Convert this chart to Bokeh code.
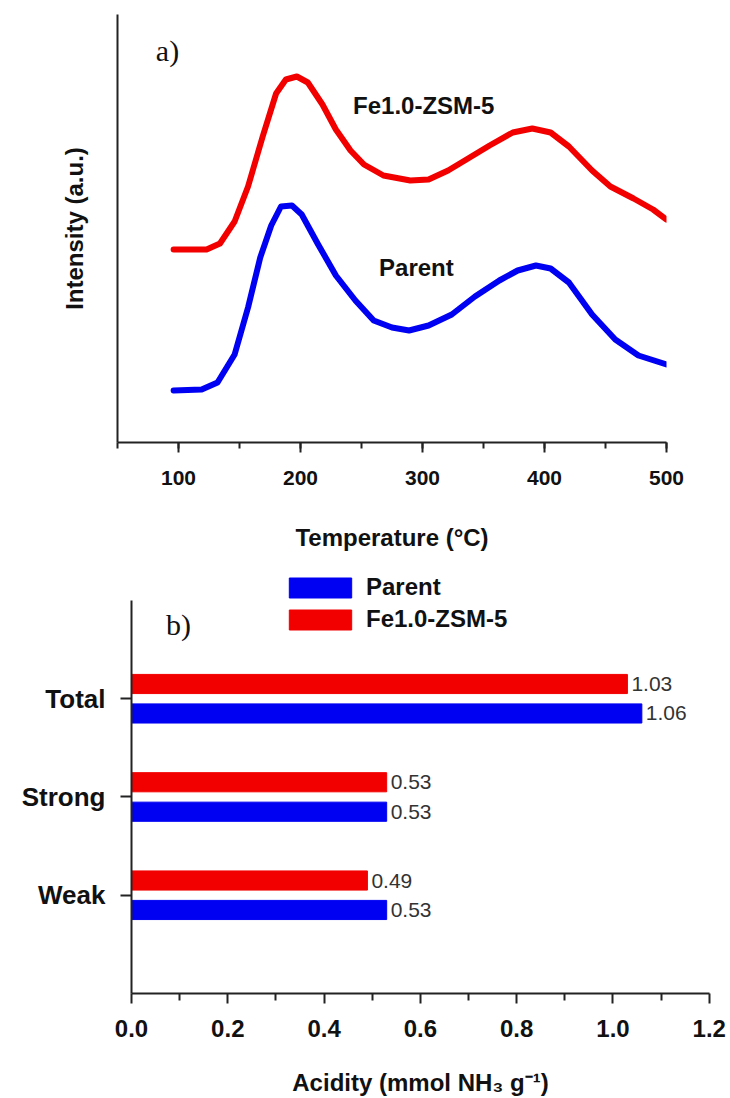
from bokeh.plotting import figure
from bokeh.models import (SingleIntervalTicker, FixedTicker, NumeralTickFormatter,
                          Label, Legend, LegendItem)
from bokeh.embed import file_html
from bokeh.resources import INLINE
from bokeh.core.properties import value

# ---------------- data: panel a (NH3-TPD profiles) ----------------
temp_fe = [96, 123, 134, 146, 157, 169, 180, 188, 197, 206, 218, 229, 241, 252, 268,
           290, 305, 321, 336, 355, 374, 390, 405, 420, 439, 454, 473, 489, 500]
int_fe = [1.93, 1.93, 1.99, 2.21, 2.56, 3.06, 3.49, 3.63, 3.66, 3.60, 3.38, 3.13, 2.92, 2.78, 2.67,
          2.62, 2.63, 2.72, 2.83, 2.97, 3.10, 3.14, 3.10, 2.96, 2.72, 2.56, 2.44, 2.33, 2.23]

temp_parent = [96, 119, 132, 146, 157, 167, 176, 184, 193, 201, 214, 229, 245, 260,
               275, 289, 305, 324, 343, 363, 378, 393, 405, 420, 439, 458, 477, 500]
int_parent = [0.52, 0.53, 0.60, 0.88, 1.35, 1.85, 2.17, 2.36, 2.37, 2.28, 1.99, 1.67, 1.42, 1.22,
              1.15, 1.12, 1.17, 1.28, 1.46, 1.62, 1.72, 1.77, 1.74, 1.60, 1.28, 1.03, 0.87, 0.78]

# ---------------- data: panel b (acidity) ----------------
categories = ["Weak", "Strong", "Total"]
acid_parent = [0.53, 0.53, 1.06]
acid_fe = [0.49, 0.53, 1.03]

acid_ticks = [0.0, 0.2, 0.4, 0.6, 0.8, 1.0, 1.2]
acid_minor = [0.1, 0.3, 0.5, 0.7, 0.9, 1.1]

SANS = "Liberation Sans"
SERIF = "Liberation Serif"
RED = "#f20000"
BLUE = "#0000f2"
AX = "#222222"


def style_axis(ax, label_size):
    ax.axis_line_color = AX
    ax.axis_line_width = 2
    ax.major_tick_line_color = AX
    ax.major_tick_line_width = 2
    ax.minor_tick_line_color = AX
    ax.minor_tick_line_width = 2
    ax.major_tick_in = 0
    ax.minor_tick_in = 0
    ax.major_label_text_font = SANS
    ax.major_label_text_font_style = "bold"
    ax.major_label_text_font_size = label_size
    ax.major_label_text_color = "#111111"
    ax.axis_label_text_font = SANS
    ax.axis_label_text_font_style = "bold"
    ax.axis_label_text_font_size = "24px"
    ax.axis_label_text_color = "#111111"


# ================= panel a =================
pa = figure(width=730, height=560, x_range=(50, 500), y_range=(0, 4.28),
            output_backend="svg", toolbar_location=None,
            min_border_left=117, min_border_right=64, min_border_top=14, min_border_bottom=118)
pa.outline_line_color = None
pa.grid.visible = False

pa.line(temp_fe, int_fe, line_color=RED, line_width=6, line_cap="round", line_join="round")
pa.line(temp_parent, int_parent, line_color=BLUE, line_width=6, line_cap="round", line_join="round")

xa = pa.xaxis[0]
xa.ticker = SingleIntervalTicker(interval=100, num_minor_ticks=2)
style_axis(xa, "21px")
xa.major_tick_out = 10
xa.minor_tick_out = 6
xa.major_label_standoff = 18
xa.axis_label = "Temperature (°C)"
xa.axis_label_standoff = 36

ya = pa.yaxis[0]
ya.ticker = FixedTicker(ticks=[])
style_axis(ya, "21px")
ya.major_tick_out = 0
ya.minor_tick_out = 0
ya.major_label_standoff = 0
ya.axis_label = "Intensity (a.u.)"
ya.axis_label_standoff = 30

pa.add_layout(Label(x=91, y=3.92, text="a)", text_font=SERIF, text_font_size="30px",
                    text_align="center", text_baseline="middle", text_color="#111111"))
pa.add_layout(Label(x=301, y=3.37, text="Fe1.0-ZSM-5", text_font=SANS, text_font_style="bold",
                    text_font_size="24px", text_align="center", text_baseline="middle",
                    text_color="#111111"))
pa.add_layout(Label(x=295, y=1.75, text="Parent", text_font=SANS, text_font_style="bold",
                    text_font_size="24px", text_align="center", text_baseline="middle",
                    text_color="#111111"))

# ================= panel b =================
pb = figure(width=730, height=538, x_range=(0, 1.2005), y_range=(0, 4.305),
            output_backend="svg", toolbar_location=None,
            min_border_left=131, min_border_right=21, min_border_top=10, min_border_bottom=105)
pb.outline_line_color = None
pb.grid.visible = False

pos = [i + 1 for i in range(len(categories))]
pos_fe = [p + 0.15 for p in pos]
pos_parent = [p - 0.15 for p in pos]

r_fe = pb.hbar(y=pos_fe, right=acid_fe, left=0, height=0.195, fill_color=RED, line_color=RED)
r_parent = pb.hbar(y=pos_parent, right=acid_parent, left=0, height=0.195, fill_color=BLUE,
                   line_color=BLUE)

pb.text(x=acid_fe, y=pos_fe, text=[f"{v:.2f}" for v in acid_fe], x_offset=4,
        text_baseline="middle", text_font=value(SANS), text_font_size="21px", text_color="#333333")
pb.text(x=acid_parent, y=pos_parent, text=[f"{v:.2f}" for v in acid_parent], x_offset=4,
        text_baseline="middle", text_font=value(SANS), text_font_size="21px", text_color="#333333")

xb = pb.xaxis[0]
xb.ticker = FixedTicker(ticks=acid_ticks, minor_ticks=acid_minor)
xb.formatter = NumeralTickFormatter(format="0.0")
style_axis(xb, "24px")
xb.major_tick_out = 10
xb.minor_tick_out = 7
xb.major_label_standoff = 16
xb.axis_label = "Acidity (mmol NH₃ g⁻¹)"
xb.axis_label_standoff = 29

yb = pb.yaxis[0]
yb.ticker = FixedTicker(ticks=pos)
yb.major_label_overrides = {p: c for p, c in zip(pos, categories)}
style_axis(yb, "26px")
yb.major_tick_out = 11
yb.minor_tick_out = 0
yb.major_label_standoff = 15
yb.bounds = (0, 4)

legend = Legend(items=[LegendItem(label="Parent", renderers=[r_parent]),
                       LegendItem(label="Fe1.0-ZSM-5", renderers=[r_fe])],
                location=(150, 360), glyph_width=78, glyph_height=25, label_standoff=7,
                spacing=4, padding=0, margin=0, border_line_color=None,
                background_fill_alpha=0, label_text_font=SANS, label_text_font_style="bold",
                label_text_font_size="24px", label_text_color="#111111")
pb.add_layout(legend)

pb.add_layout(Label(x=0.0976, y=3.756, text="b)", text_font=SERIF, text_font_size="30px",
                    text_align="center", text_baseline="middle", text_color="#111111"))

open("out.html", "w").write(file_html([pa, pb], INLINE))
